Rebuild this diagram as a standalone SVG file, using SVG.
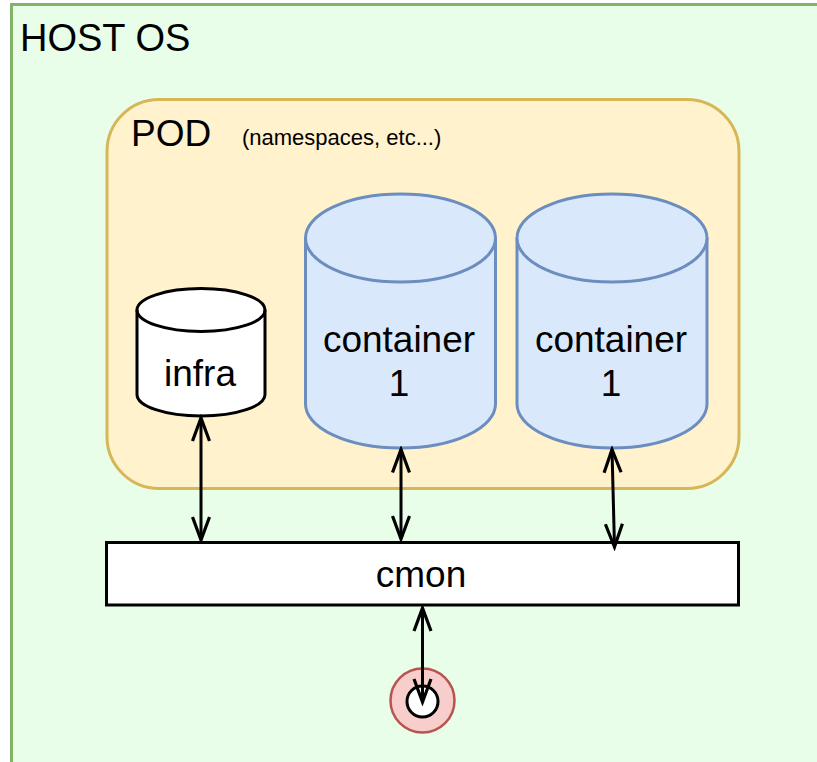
<svg xmlns="http://www.w3.org/2000/svg" width="817" height="762" viewBox="0 0 817 762">
<style>
.t{font-family:"Liberation Sans",Arial,sans-serif;fill:#000}
.big{font-size:37px}
.mid{text-anchor:middle}
.cont{fill:#dae8fc;stroke:#6c8ebf;stroke-width:3}
.conn{stroke:#000;stroke-width:3;fill:none;marker-start:url(#arr);marker-end:url(#arr)}
</style>
<defs>
<marker id="arr" markerUnits="userSpaceOnUse" viewBox="-26 -11 30 22" refX="0" refY="0" markerWidth="30" markerHeight="22" orient="auto-start-reverse">
<path d="M-23,-8.5 L0,0 L-23,8.5" fill="none" stroke="#000" stroke-width="3.2"/>
</marker>
</defs>
<rect width="817" height="762" fill="#ffffff"/>
<g id="host-os">
<rect x="11.5" y="4.5" width="820" height="770" fill="#e8fee8" stroke="#82b366" stroke-width="3"/>
<text class="t" x="20" y="51" font-size="38">HOST OS</text>
</g>
<g id="pod">
<rect x="107" y="99.5" width="632" height="389" rx="52" ry="52" fill="#fff2cc" stroke="#d6b656" stroke-width="3"/>
<text class="t big" x="131" y="146">POD</text>
<text class="t" x="242" y="145" font-size="22">(namespaces, etc...)</text>
</g>
<g id="infra">
<path d="M137,310 A64,21.5 0 0 1 265,310 L265,394.5 A64,21.5 0 0 1 137,394.5 Z" fill="#fff" stroke="#000" stroke-width="3"/>
<path d="M137,310 A64,21.5 0 0 0 265,310" fill="none" stroke="#000" stroke-width="3"/>
<text class="t big mid" x="200" y="386">infra</text>
</g>
<g id="container1">
<path class="cont" d="M305.5,238 A95,44 0 0 1 495.5,238 L495.5,404 A95,44 0 0 1 305.5,404 Z"/>
<path class="cont" d="M305.5,238 A95,44 0 0 0 495.5,238" fill="none"/>
<text class="t big mid" x="399" y="352">container</text>
<text class="t big mid" x="399" y="396">1</text>
</g>
<g id="container2">
<path class="cont" d="M517,238 A95,44 0 0 1 707,238 L707,404 A95,44 0 0 1 517,404 Z"/>
<path class="cont" d="M517,238 A95,44 0 0 0 707,238" fill="none"/>
<text class="t big mid" x="611" y="352">container</text>
<text class="t big mid" x="611" y="396">1</text>
</g>
<g id="cmon">
<rect x="106.5" y="542.5" width="632" height="62.5" fill="#fff" stroke="#000" stroke-width="3"/>
<text class="t big mid" x="421" y="587">cmon</text>
</g>
<g id="socket">
<circle cx="422.5" cy="700.5" r="32" fill="#f8cecc" stroke="#b85450" stroke-width="2.5"/>
<circle cx="422.5" cy="701.5" r="15.5" fill="#fff" stroke="#000" stroke-width="3"/>
</g>
<g id="connectors">
<line class="conn" x1="201" y1="418" x2="201" y2="540"/>
<line class="conn" x1="401" y1="449.5" x2="401" y2="539"/>
<line class="conn" x1="612" y1="449.5" x2="614.5" y2="547"/>
<line class="conn" x1="422.5" y1="608" x2="422.5" y2="702"/>
</g>
</svg>
